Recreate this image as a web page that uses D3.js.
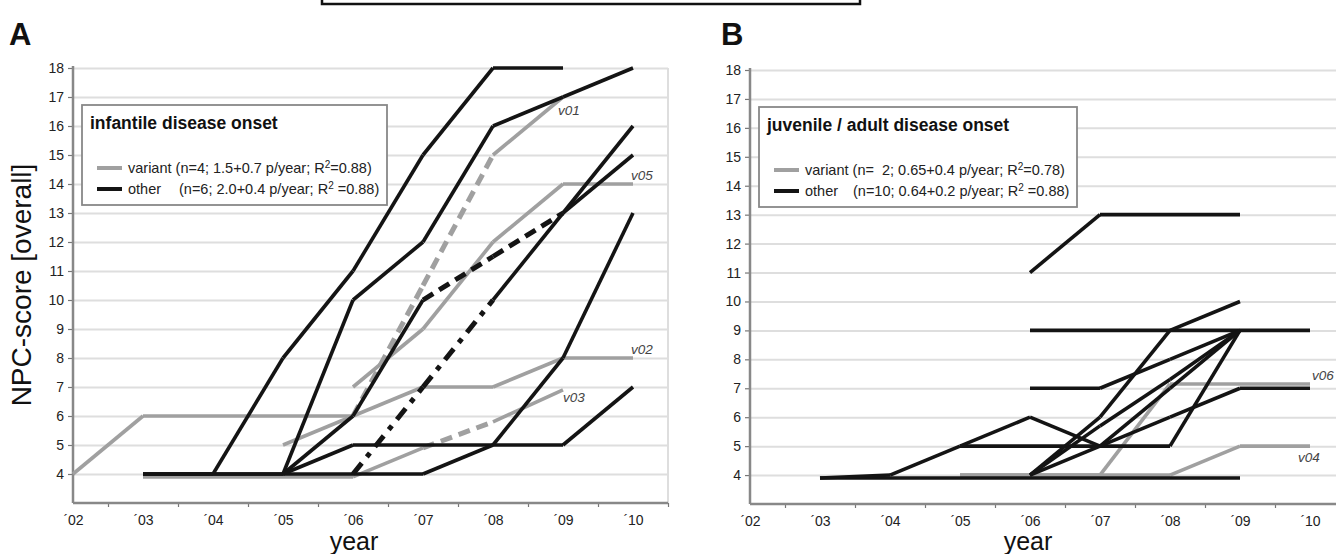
<!DOCTYPE html>
<html>
<head>
<meta charset="utf-8">
<script src="https://cdn.jsdelivr.net/npm/d3@7"></script>
<style>
    body { margin: 0; background: #fff; }
    svg { display: block; }
    text { font-family: 'Liberation Sans', Arial, sans-serif; }
</style>
</head>
<body>
<svg id="chart" width="1336" height="554"></svg>
<script>
// ---- data ----
const years = [2002, 2003, 2004, 2005, 2006, 2007, 2008, 2009, 2010]
const yearLabels = ['´02', '´03', '´04', '´05', '´06', '´07', '´08', '´09', '´10']
const scoreTicks = [4, 5, 6, 7, 8, 9, 10, 11, 12, 13, 14, 15, 16, 17, 18]

// A: infantile disease onset (one value per year, null = no visit)
const v01 = [4, 6, 6, 6, 6, 10.5, 15, 17, null]
const v02 = [null, null, null, 5, 6, 7, 7, 8, 8]
const v03 = [null, 3.9, 3.9, 3.9, 3.9, 4.9, 5.8, 6.9, null]
const v05 = [null, null, null, null, 7, 9, 12, 14, 14]
const infOther1 = [null, 4, 4, 8, 11, 15, 18, 18, null]
const infOther2 = [null, 4, 4, 4, 10, 12, 16, 17, 18]
const infOther3 = [null, null, null, 4, 6, 10, 11.5, 13, 15]
const infOther4 = [null, null, null, 4, 5, 5, 5, 5, 7]
const infOther5 = [null, 4, 4, 4, 4, 4, 5, 8, 13]
const infOther6 = [null, null, null, null, 4, 7, 10, 13, 16]

// B: juvenile / adult disease onset
const v04 = [null, null, null, 4, 4, 4, 4, 5, 5]
const v06 = [null, null, null, 4, 4, 4, 7.15, 7.15, 7.15]
const juvOther1 = [null, null, null, null, 11, 13, 13, 13, null]
const juvOther2 = [null, null, null, null, 9, 9, 9, 9, 9]
const juvOther3 = [null, null, null, null, 7, 7, 8, 9, null]
const juvOther4 = [null, 3.9, 3.9, 3.9, 3.9, 3.9, 3.9, 3.9, null]
const juvOther5 = [null, 3.9, 4, 5, 6, 5, 7, 9, null]
const juvOther6 = [null, null, null, 5, 5, 5, 5, 9, null]
const juvOther7 = [null, null, null, null, 4, 6, 9, 10, null]
const juvOther8 = [null, null, null, null, 4, 5.7, 7.3, 9, null]
const juvOther9 = [null, null, null, null, 4, 5, 6, 7, 7]

const GRAY = '#a0a0a0'
const BLACK = '#141414'

const svg = d3.select('#chart')

// frame cut at top of the figure
svg.append('rect')
    .attr('x', 322).attr('y', -20)
    .attr('width', 538).attr('height', 24)
    .attr('fill', 'none')
    .attr('stroke', '#111')
    .attr('stroke-width', 2.5)

function drawPanel(p) {
    const x = d3.scaleLinear().domain([2002, 2010.5]).range([p.left, p.left + 8.5 * 70])
    const y = d3.scaleLinear().domain([3, 18]).range([p.bottom, p.top])
    const g = svg.append('g')
    const right = Math.min(x(2010.5), 1336)

    // grid
    g.append('g')
        .attr('transform', `translate(${p.left},0)`)
        .call(d3.axisLeft(y).tickValues(scoreTicks).tickSize(-(x(2010.5) - p.left)).tickFormat(''))
        .call((s) => s.select('.domain').remove())
        .selectAll('line')
        .attr('stroke', '#dedede')
        .attr('stroke-width', 2)

    if (p.border) {
        g.append('line')
            .attr('x1', x(2010.5)).attr('x2', x(2010.5))
            .attr('y1', y(18)).attr('y2', y(3))
            .attr('stroke', '#dedede').attr('stroke-width', 2)
    }

    // y axis
    const ya = g.append('g')
        .attr('transform', `translate(${p.left},0)`)
        .call(d3.axisLeft(y).tickValues(scoreTicks).tickSize(5).tickPadding(4))
    ya.select('.domain').remove()
    ya.selectAll('line').attr('stroke', '#777').attr('stroke-width', 1.2)
    ya.selectAll('text').attr('fill', '#222').style('font-size', '14px')

    // x axis
    const xa = g.append('g')
        .attr('transform', `translate(0,${p.bottom})`)
        .call(d3.axisBottom(x).tickValues(years).tickSize(0).tickPadding(12)
            .tickFormat((d, i) => yearLabels[i]))
    xa.select('.domain').remove()
    xa.selectAll('text').attr('fill', '#222').style('font-size', '14px')

    g.append('g')
        .attr('transform', `translate(0,${p.bottom})`)
        .call(d3.axisBottom(x).tickValues(years.map((d) => d + 0.5)).tickSize(4).tickFormat(''))
        .call((s) => s.select('.domain').remove())
        .selectAll('line').attr('stroke', '#777').attr('stroke-width', 1.2)

    g.append('line')
        .attr('x1', p.left).attr('x2', right)
        .attr('y1', p.bottom).attr('y2', p.bottom)
        .attr('stroke', '#888').attr('stroke-width', 2.5)
    g.append('line')
        .attr('x1', p.left).attr('x2', p.left)
        .attr('y1', y(18) - 2).attr('y2', p.bottom)
        .attr('stroke', '#888').attr('stroke-width', 2.5)

    // series
    const line = d3.line()
        .defined((d) => d.v != null)
        .x((d) => x(d.year))
        .y((d) => y(d.v))

    p.series.forEach((s) => {
        const pts = years.map((yr, i) => ({ year: yr, v: s.values[i] }))
        const dashed = s.dashed || []
        // split into segments so single segments can carry a dash pattern
        for (let i = 0; i < pts.length - 1; i++) {
            const a = pts[i], b = pts[i + 1]
            if (a.v == null || b.v == null) continue
            const isDash = dashed.includes(a.year)
            g.append('path')
                .datum([a, b])
                .attr('d', line)
                .attr('fill', 'none')
                .attr('stroke', s.color)
                .attr('stroke-width', isDash ? 5 : 3.6)
                .attr('stroke-linecap', 'butt')
                .attr('stroke-linejoin', 'round')
                .attr('stroke-dasharray', isDash ? s.dash : null)
        }
    })

    // series labels
    p.labels.forEach((l) => {
        g.append('text')
            .attr('x', x(l.year) + l.dx)
            .attr('y', y(l.v) + l.dy)
            .attr('fill', '#444')
            .style('font-size', '13.5px')
            .style('font-style', 'italic')
            .text(l.name)
    })

    // panel letter
    svg.append('text')
        .attr('x', p.letterX).attr('y', 45)
        .style('font-size', '31px')
        .style('font-weight', 'bold')
        .attr('fill', '#111')
        .text(p.letter)

    // x title
    svg.append('text')
        .attr('x', p.yearX).attr('y', 550)
        .attr('text-anchor', 'middle')
        .style('font-size', '25px')
        .attr('fill', '#111')
        .text('year')

    // legend
    const lg = g.append('g').attr('transform', `translate(${p.legend.x},${p.legend.y})`)
    lg.append('rect')
        .attr('width', p.legend.w).attr('height', 100)
        .attr('fill', '#fff')
        .attr('stroke', '#888').attr('stroke-width', 1.8)
    lg.append('text')
        .attr('x', 8).attr('y', 24)
        .style('font-size', '17.5px').style('font-weight', 'bold')
        .attr('fill', '#111')
        .text(p.legend.title)

    const rows = [
        { color: GRAY, name: 'variant', rest: p.legend.variant, y: 63 },
        { color: BLACK, name: 'other', rest: p.legend.other, y: 84 },
    ]
    rows.forEach((r, i) => {
        lg.append('line')
            .attr('x1', 15).attr('x2', 40)
            .attr('y1', r.y).attr('y2', r.y)
            .attr('stroke', r.color).attr('stroke-width', 4)
        const t = lg.append('text')
            .attr('x', i === 0 ? 46 : p.legend.restX)
            .attr('y', r.y + 5)
            .style('font-size', '14.5px')
            .style('white-space', 'pre')
            .attr('fill', '#222')
        t.append('tspan').text(r.rest[0])
        t.append('tspan').attr('dy', -5).style('font-size', '10px').text('2')
        t.append('tspan').attr('dy', 5).text(r.rest[1])
        if (i === 1) {
            lg.append('text')
                .attr('x', 46).attr('y', r.y + 5)
                .style('font-size', '14.5px')
                .attr('fill', '#222')
                .text('other')
        }
    })
}

drawPanel({
    left: 73, top: 68, bottom: 503, border: true,
    letter: 'A', letterX: 9, yearX: 354,
    legend: {
        x: 82, y: 105, w: 305, restX: 97,
        title: 'infantile disease onset',
        variant: ['variant (n=4; 1.5+0.7 p/year; R', '=0.88)'],
        other: ['(n=6; 2.0+0.4 p/year; R', ' =0.88)'],
    },
    series: [
        { values: v02, color: GRAY },
        { values: v03, color: GRAY, dashed: [2007], dash: '12,7' },
        { values: v05, color: GRAY },
        { values: v01, color: GRAY, dashed: [2006, 2007], dash: '12,7' },
        { values: infOther1, color: BLACK },
        { values: infOther2, color: BLACK },
        { values: infOther3, color: BLACK, dashed: [2007, 2008], dash: '12,7' },
        { values: infOther4, color: BLACK },
        { values: infOther5, color: BLACK },
        { values: infOther6, color: BLACK, dashed: [2006, 2007], dash: '14,8,5,8' },
    ],
    labels: [
        { name: 'v01', year: 2009, v: 17, dx: -5, dy: 18 },
        { name: 'v05', year: 2010, v: 14, dx: -2, dy: -4 },
        { name: 'v02', year: 2010, v: 8, dx: -2, dy: -4 },
        { name: 'v03', year: 2009, v: 6.9, dx: 0, dy: 12 },
    ],
})

drawPanel({
    left: 750, top: 70, bottom: 504, border: false,
    letter: 'B', letterX: 721, yearX: 1028,
    legend: {
        x: 759, y: 107, w: 318, restX: 94,
        title: 'juvenile / adult disease onset',
        variant: ['variant (n=  2; 0.65+0.4 p/year; R', '=0.78)'],
        other: ['(n=10; 0.64+0.2 p/year; R', ' =0.88)'],
    },
    series: [
        { values: v04, color: GRAY },
        { values: v06, color: GRAY },
        { values: juvOther1, color: BLACK },
        { values: juvOther2, color: BLACK },
        { values: juvOther3, color: BLACK },
        { values: juvOther4, color: BLACK },
        { values: juvOther5, color: BLACK },
        { values: juvOther6, color: BLACK },
        { values: juvOther7, color: BLACK },
        { values: juvOther8, color: BLACK },
        { values: juvOther9, color: BLACK },
    ],
    labels: [
        { name: 'v06', year: 2010, v: 7.15, dx: 2, dy: -4 },
        { name: 'v04', year: 2010, v: 5, dx: -12, dy: 16 },
    ],
})

// y title
svg.append('text')
    .attr('transform', 'translate(31,285) rotate(-90)')
    .attr('text-anchor', 'middle')
    .style('font-size', '28px')
    .attr('fill', '#111')
    .text('NPC-score [overall]')
</script>
</body>
</html>
